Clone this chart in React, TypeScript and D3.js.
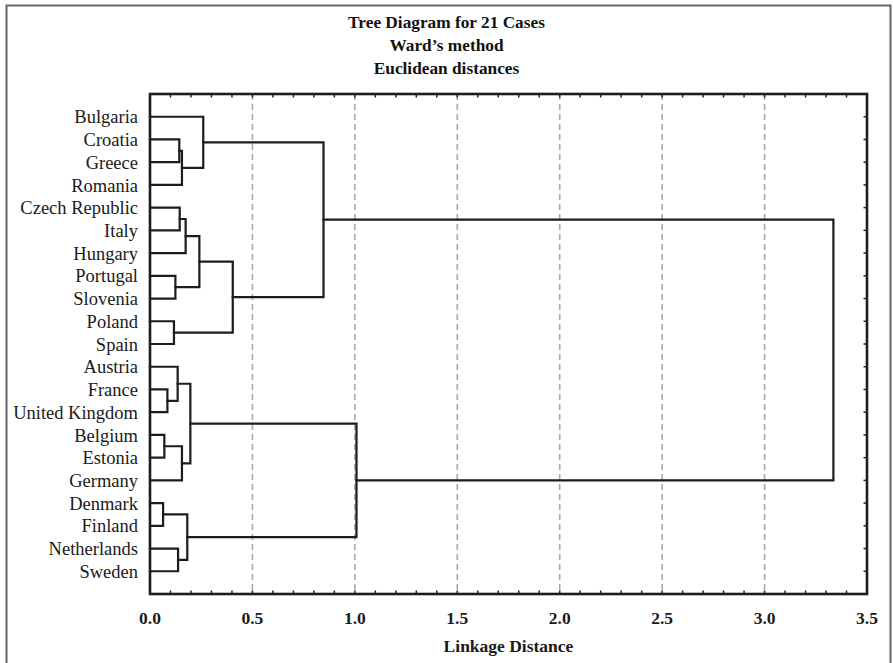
import React from 'react';
import * as d3 from 'd3';

// leaf order as drawn top to bottom
const countries = [
  'Bulgaria', 'Croatia', 'Greece', 'Romania', 'Czech Republic', 'Italy', 'Hungary',
  'Portugal', 'Slovenia', 'Poland', 'Spain', 'Austria', 'France', 'United Kingdom',
  'Belgium', 'Estonia', 'Germany', 'Denmark', 'Finland', 'Netherlands', 'Sweden'
];

// linkage: [child A, child B, distance]; ids >= 21 are earlier merges (21 + row)
const linkage: [number, number, number][] = [
  [17, 18, 0.064], // 21 Denmark+Finland
  [14, 15, 0.070], // 22 Belgium+Estonia
  [12, 13, 0.085], // 23 France+UK
  [9, 10, 0.117],  // 24 Poland+Spain
  [7, 8, 0.124],   // 25 Portugal+Slovenia
  [11, 23, 0.135], // 26
  [19, 20, 0.137], // 27 Netherlands+Sweden
  [1, 2, 0.143],   // 28 Croatia+Greece
  [4, 5, 0.145],   // 29 Czech+Italy
  [28, 3, 0.156],  // 30
  [22, 16, 0.156], // 31
  [29, 6, 0.174],  // 32
  [21, 27, 0.182], // 33
  [26, 31, 0.197], // 34
  [32, 25, 0.241], // 35
  [0, 30, 0.260],  // 36
  [35, 24, 0.404], // 37
  [36, 37, 0.847], // 38
  [34, 33, 1.008], // 39
  [38, 39, 3.336]  // 40
];

const xTicks = [0, 0.5, 1, 1.5, 2, 2.5, 3, 3.5];
const titleLines = ['Tree Diagram for 21 Cases', "Ward\u2019s method", 'Euclidean distances'];
const xTitle = 'Linkage Distance';

export default class App extends React.Component {
  node: SVGSVGElement | null = null;

  componentDidMount() {
    this.drawTree();
  }
  componentDidUpdate() {
    this.drawTree();
  }

  drawTree() {
    const W = 893;
    const plot = {left: 150, right: 867, top: 94, bottom: 594};
    const font = '"Liberation Serif", "Times New Roman", serif';

    const svg = d3.select(this.node);
    svg.selectAll('*').remove();

    // outer frame of the graph window
    svg.append('rect')
      .attr('x', 6.5).attr('y', 5.5)
      .attr('width', 884).attr('height', 680)
      .attr('fill', 'none')
      .attr('stroke', '#666')
      .attr('stroke-width', 2);

    const x = d3.scaleLinear().domain([0, 3.5]).range([plot.left, plot.right]);
    const y = d3.scalePoint<string>().domain(countries).range([plot.top, plot.bottom]).padding(1);

    // title
    svg.append('g').selectAll('text')
      .data(titleLines)
      .enter().append('text')
        .attr('x', W / 2)
        .attr('y', (d, i) => 28 + i * 23)
        .attr('text-anchor', 'middle')
        .attr('font-family', font)
        .attr('font-weight', 'bold')
        .attr('font-size', 17.3)
        .attr('fill', '#111')
        .text(d => d);

    // dashed vertical grid
    svg.append('g').selectAll('line')
      .data(xTicks.filter(t => t > 0 && t < 3.5))
      .enter().append('line')
        .attr('x1', d => x(d)).attr('x2', d => x(d))
        .attr('y1', plot.top).attr('y2', plot.bottom)
        .attr('stroke', '#a8a8a8')
        .attr('stroke-width', 1.6)
        .attr('stroke-dasharray', '6,4');

    // minor ticks (0.1) on top and bottom, pointing inward
    const minor = d3.range(1, 35).map(i => i / 10);
    const tk = svg.append('g').attr('stroke', '#222').attr('stroke-width', 1.5);
    minor.forEach(t => {
      tk.append('line').attr('x1', x(t)).attr('x2', x(t)).attr('y1', plot.top).attr('y2', plot.top + 3.5);
      tk.append('line').attr('x1', x(t)).attr('x2', x(t)).attr('y1', plot.bottom).attr('y2', plot.bottom - 3.5);
    });
    // ticks on the right side at each case
    countries.forEach(c => {
      tk.append('line').attr('x1', plot.right).attr('x2', plot.right - 3.5).attr('y1', y(c)!).attr('y2', y(c)!);
    });

    // build node positions and draw the links
    const nodeX: number[] = countries.map(() => 0);
    const nodeY: number[] = countries.map(c => y(c)!);
    const links = svg.append('g')
      .attr('fill', 'none')
      .attr('stroke', '#1c1c1c')
      .attr('stroke-width', 2.2)
      .attr('stroke-linecap', 'square');

    linkage.forEach(([a, b, h]) => {
      const p = d3.path();
      p.moveTo(x(nodeX[a]), nodeY[a]);
      p.lineTo(x(h), nodeY[a]);
      p.lineTo(x(h), nodeY[b]);
      p.lineTo(x(nodeX[b]), nodeY[b]);
      links.append('path').attr('d', p.toString());
      nodeX.push(h);
      nodeY.push((nodeY[a] + nodeY[b]) / 2);
    });

    // plot frame
    svg.append('rect')
      .attr('x', plot.left).attr('y', plot.top)
      .attr('width', plot.right - plot.left).attr('height', plot.bottom - plot.top)
      .attr('fill', 'none')
      .attr('stroke', '#1c1c1c')
      .attr('stroke-width', 2.6);

    // case labels
    svg.append('g').selectAll('text')
      .data(countries)
      .enter().append('text')
        .attr('x', plot.left - 12)
        .attr('y', d => y(d)!)
        .attr('dy', '0.36em')
        .attr('text-anchor', 'end')
        .attr('font-family', font)
        .attr('font-size', 18.5)
        .attr('fill', '#1a1a1a')
        .text(d => d);

    // x tick labels
    svg.append('g').selectAll('text')
      .data(xTicks)
      .enter().append('text')
        .attr('x', d => x(d))
        .attr('y', 624)
        .attr('text-anchor', 'middle')
        .attr('font-family', font)
        .attr('font-weight', 'bold')
        .attr('font-size', 17.5)
        .attr('fill', '#1a1a1a')
        .text(d => d3.format('.1f')(d));

    svg.append('text')
      .attr('x', (plot.left + plot.right) / 2)
      .attr('y', 652)
      .attr('text-anchor', 'middle')
      .attr('font-family', font)
      .attr('font-weight', 'bold')
      .attr('font-size', 17.5)
      .attr('fill', '#1a1a1a')
      .text(xTitle);
  }

  render() {
    return (
      <svg
        ref={node => { this.node = node; }}
        width={893}
        height={663}
        style={{position: 'absolute', left: 0, top: 0, background: '#fff'}}
      />
    );
  }
}
